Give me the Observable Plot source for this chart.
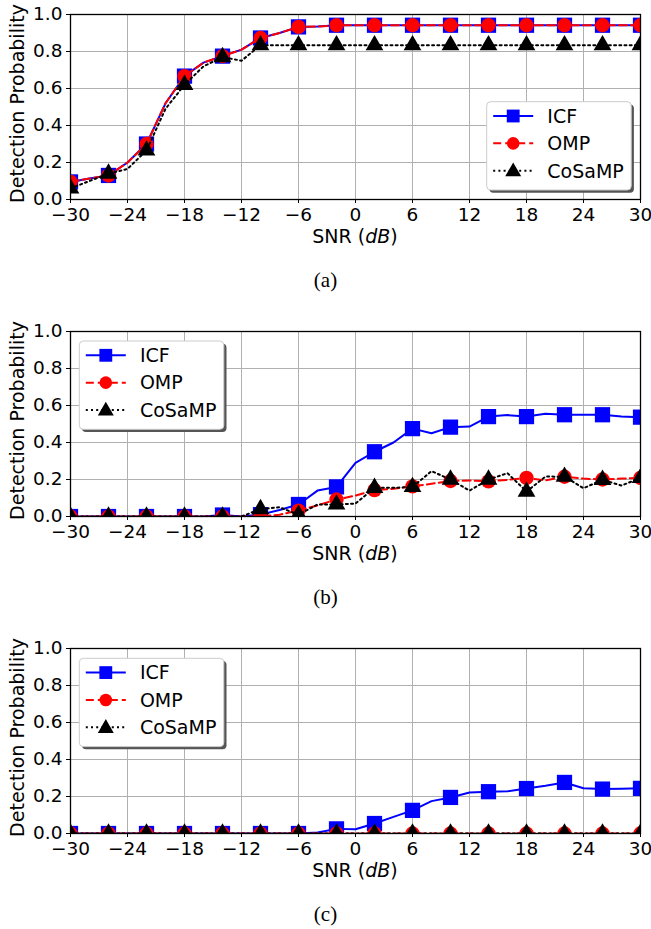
<!DOCTYPE html>
<html><head><meta charset="utf-8">
<script src="https://cdn.jsdelivr.net/npm/d3@7"></script>
<script src="https://cdn.jsdelivr.net/npm/@observablehq/plot@0.6"></script>
<style>
body{margin:0;background:#fff;width:651px;}
.panel{position:relative;width:651px;height:317px;}
.cap{font-family:"Liberation Serif","Times New Roman",serif;font-size:21px;text-align:center;height:67px;line-height:60px;width:651px;color:#000;}
</style></head><body><div id="root"></div>
<script>
// ---- data ----
const snr = [-30,-28,-26,-24,-22,-20,-18,-16,-14,-12,-10,-8,-6,-4,-2,0,2,4,6,8,10,12,14,16,18,20,22,24,26,28,30];
const xTicks = [-30,-24,-18,-12,-6,0,6,12,18,24,30];
const yTicks = [0,0.2,0.4,0.6,0.8,1.0];
const seriesNames = ["ICF","OMP","CoSaMP"];
const captions = ["(a)","(b)","(c)"];

const icfA = [0.095,0.113,0.13,0.20,0.30,0.52,0.667,0.74,0.775,0.81,0.873,0.90,0.933,0.935,0.942,0.942,0.942,0.942,0.942,0.942,0.942,0.942,0.942,0.942,0.942,0.942,0.942,0.942,0.942,0.942,0.942];
const ompA = [0.095,0.113,0.13,0.20,0.30,0.52,0.667,0.74,0.775,0.81,0.873,0.90,0.933,0.935,0.942,0.942,0.942,0.942,0.942,0.942,0.942,0.942,0.942,0.942,0.942,0.942,0.942,0.942,0.942,0.942,0.942];
const cosampA = [0.06,0.10,0.14,0.165,0.265,0.49,0.62,0.72,0.77,0.75,0.834,0.834,0.834,0.834,0.834,0.834,0.834,0.834,0.834,0.834,0.834,0.834,0.834,0.834,0.834,0.834,0.834,0.834,0.834,0.834,0.834];

const icfB = [0,0,0,0,0,0,0,0,0.008,0,0.01,0.035,0.065,0.14,0.16,0.29,0.35,0.40,0.475,0.45,0.483,0.486,0.54,0.548,0.54,0.556,0.55,0.55,0.55,0.54,0.537];
const ompB = [0,0,0,0,0,0,0,0,0,0,0,0.01,0.032,0.06,0.092,0.113,0.143,0.15,0.163,0.177,0.192,0.195,0.19,0.198,0.209,0.195,0.215,0.205,0.2,0.205,0.209];
const cosampB = [0,0,0,0,0,0,0,0,0,0,0.04,0.05,0.01,0.065,0.065,0.07,0.155,0.155,0.16,0.245,0.2,0.14,0.2,0.234,0.135,0.216,0.215,0.153,0.198,0.167,0.209];

const icfC = [0,0,0,0,0,0,0,0,0,0,0,0,0,0.005,0.025,0.023,0.054,0.09,0.125,0.175,0.195,0.222,0.226,0.228,0.243,0.258,0.276,0.245,0.24,0.242,0.244];
const ompC = [0,0,0,0,0,0,0,0,0,0,0,0,0,0,0,0,0,0,0,0,0,0,0,0,0,0,0,0,0,0,0];
const cosampC = [0,0,0,0,0,0,0,0,0,0,0,0,0,0,0,0,0,0,0,0,0,0,0,0,0,0,0,0,0,0,0];

// ---- styles ----
const styles = [
  {color:"#0000ff", dash:null, symbol:"square", r:8.6, leg:d3.symbolSquare, legSize:165},
  {color:"#ff0000", dash:"8,4", symbol:"circle", r:7.2, leg:d3.symbolCircle, legSize:125},
  {color:"#000000", dash:"2,3.2", symbol:"triangle", r:6.6, leg:d3.symbolTriangle, legSize:110}
];
const fmtX = d => d < 0 ? "\u2212" + (-d) : String(d);
const FONT = "'DejaVu Sans', sans-serif";

function panel(vals, legendPos, caption) {
  const marks = [
    Plot.gridX(xTicks, {stroke:"#b0b0b0", strokeOpacity:1, strokeWidth:1}),
    Plot.gridY(yTicks, {stroke:"#b0b0b0", strokeOpacity:1, strokeWidth:1})
  ];
  vals.forEach((ys, k) => {
    const s = styles[k];
    const data = snr.map((x, i) => ({x, y: ys[i], i}));
    marks.push(Plot.line(data, {x:"x", y:"y", stroke:s.color, strokeWidth:2, strokeDasharray:s.dash, clip:true}));
    marks.push(Plot.dot(data.filter(d => d.i % 2 === 0), {x:"x", y:"y", symbol:s.symbol, r:s.r, fill:s.color, stroke:"none", clip:true}));
  });
  marks.push(
    Plot.axisX({ticks:xTicks, tickFormat:fmtX, tickSize:4, tickPadding:4, label:null, fontSize:18}),
    Plot.axisY({ticks:yTicks, tickFormat:d3.format(".1f"), tickSize:4, tickPadding:4, label:null, fontSize:18}),
    Plot.frame({stroke:"#000", strokeWidth:1.3})
  );
  const svg = Plot.plot({
    width:651, height:250, marginLeft:70, marginRight:11, marginTop:14, marginBottom:51,
    x:{domain:[-30,30]}, y:{domain:[0,1]},
    style:{fontFamily:FONT, fontSize:"18px", color:"#000", background:"#fff"},
    marks
  });
  const s = d3.select(svg);
  s.selectAll("g[aria-label$='tick label'] text").style("font-size","18.5px").style("font-family",FONT);
  s.selectAll("g[aria-label$='tick label']").style("font-size","18.5px");
  // axis labels
  const xl = s.append("text").attr("x",355).attr("y",243.3).attr("text-anchor","middle")
    .style("font-size","19px").style("font-family",FONT).attr("fill","#000");
  xl.append("tspan").text("SNR (");
  xl.append("tspan").attr("font-style","italic").text("dB");
  xl.append("tspan").text(")");
  s.append("text").attr("transform","translate(24,103.5) rotate(-90)").attr("text-anchor","middle")
    .style("font-size","19px").style("font-family",FONT).attr("fill","#000").text("Detection Probability");
  // legend
  const W = 144.5, H = 88.3;
  const g = s.append("g").attr("transform", `translate(${legendPos[0]},${legendPos[1]})`);
  g.append("rect").attr("x",2.7).attr("y",2.7).attr("width",W).attr("height",H).attr("rx",4).attr("fill","#555");
  g.append("rect").attr("width",W).attr("height",H).attr("rx",4).attr("fill","#fff").attr("stroke","#cccccc").attr("stroke-width",1);
  styles.forEach((st, k) => {
    const cy = 14.3 + k * 27.35;
    g.append("line").attr("x1",6.5).attr("x2",46.5).attr("y1",cy).attr("y2",cy)
      .attr("stroke",st.color).attr("stroke-width",2).attr("stroke-dasharray",st.dash);
    g.append("path").attr("transform",`translate(26.5,${cy + (k===2?1:0)})`)
      .attr("d", d3.symbol(st.leg, st.legSize)()).attr("fill",st.color);
    g.append("text").attr("x",60.6).attr("y",cy).attr("dy","0.36em").attr("text-anchor","start")
      .style("font-size","19px").style("font-family",FONT).attr("fill","#000").text(seriesNames[k]);
  });
  const div = document.createElement("div");
  div.className = "panel";
  div.appendChild(svg);
  const cap = document.createElement("div");
  cap.className = "cap";
  cap.textContent = caption;
  div.appendChild(cap);
  return div;
}

const root = document.getElementById("root");
root.appendChild(panel([icfA, ompA, cosampA], [486.7, 101.7], captions[0]));
root.appendChild(panel([icfB, ompB, cosampB], [79.3, 24], captions[1]));
root.appendChild(panel([icfC, ompC, cosampC], [79.3, 24.3], captions[2]));
</script>
</body></html>
